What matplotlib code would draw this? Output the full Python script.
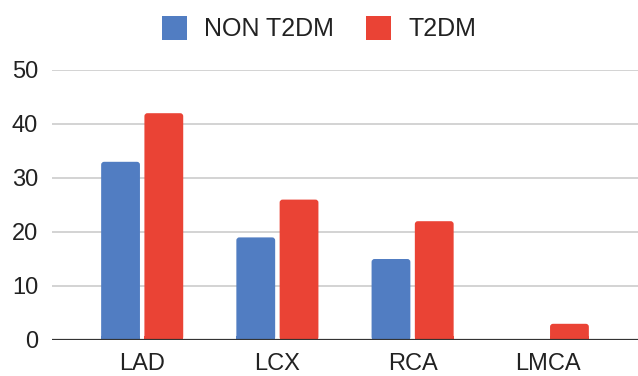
import matplotlib.pyplot as plt
import numpy as np
from matplotlib.patches import Patch, FancyBboxPatch, Rectangle

categories = ["LAD", "LCX", "RCA", "LMCA"]
non_t2dm = [33, 19, 15, 0]
t2dm = [42, 26, 22, 3]
series_names = ["NON T2DM", "T2DM"]

BLUE = "#517dc2"
RED = "#ea4335"

plt.rcParams["font.family"] = ["Liberation Sans", "DejaVu Sans"]

fig = plt.figure(figsize=(6.38, 3.76), dpi=100)
ax = fig.add_axes([52 / 638, 36 / 376, 586 / 638, 270 / 376])

x = np.arange(len(categories))
w = 0.287
off = 0.16

ax.set_xlim(-0.667, 3.667)
ax.set_ylim(0, 50)

# bars with slightly rounded top corners (Sheets style)
x_px = 586 / (3.667 + 0.667)
y_px = 270 / 50
r = 3 / x_px
for vals, shift, col in [(non_t2dm, -off, BLUE), (t2dm, off, RED)]:
    for xi, v in zip(x, vals):
        if v <= 0:
            continue
        left = xi + shift - w / 2
        ax.add_patch(FancyBboxPatch((left, 0), w, v,
                                    boxstyle=f"round,pad=0,rounding_size={r}",
                                    mutation_aspect=x_px / y_px,
                                    facecolor=col, edgecolor="none", zorder=3))
        # square off the bottom corners
        ax.add_patch(Rectangle((left, 0), w, min(v / 2, 4 / y_px), facecolor=col,
                               edgecolor="none", zorder=3))

ax.set_yticks([0, 10, 20, 30, 40, 50])
ax.grid(axis="y", color="#cccccc", linewidth=1.2, zorder=0)
ax.axhline(0, color="#333333", linewidth=1.6, zorder=4)

for s in ax.spines.values():
    s.set_visible(False)
ax.tick_params(axis="both", length=0, labelsize=17, labelcolor="#222222")
ax.tick_params(axis="y", pad=10)
ax.tick_params(axis="x", pad=9)
ax.set_xticks(x)
ax.set_xticklabels(categories)

handles = [Patch(facecolor=BLUE, label=series_names[0]),
           Patch(facecolor=RED, label=series_names[1])]
fig.legend(handles=handles, loc="center", bbox_to_anchor=(0.5, 1 - 28.5 / 376),
           ncol=2, frameon=False, fontsize=18, handlelength=1.0, handleheight=1.08,
           handletextpad=0.68, columnspacing=1.3, labelcolor="#222222")

fig.savefig("out.png", dpi=100)
